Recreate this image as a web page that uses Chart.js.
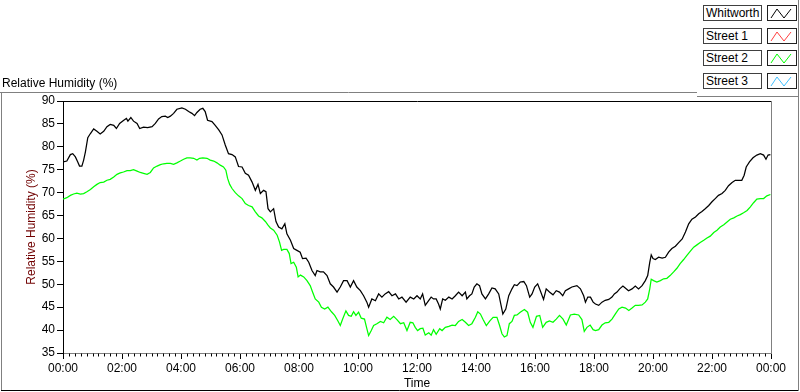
<!DOCTYPE html>
<html>
<head>
<meta charset="utf-8">
<script src="https://cdn.jsdelivr.net/npm/chart.js@4/dist/chart.umd.min.js"></script>
<style>
html,body{margin:0;padding:0;background:#fff;}
#wrap{position:relative;width:800px;height:392px;overflow:hidden;font-family:"Liberation Sans",Arial,sans-serif;}
#c{position:absolute;left:0;top:0;}
#title{position:absolute;left:2px;top:76px;font-size:12px;line-height:14px;color:#000;white-space:nowrap;}
.lgText{position:absolute;left:703px;width:59px;height:16px;border:1px solid #404040;box-sizing:border-box;font-size:12px;line-height:14px;padding-left:2px;color:#000;background:#fff;white-space:nowrap;}
.lgIcon{position:absolute;left:767px;width:30px;height:16px;border:1px solid #202020;box-sizing:border-box;background:#fff;}
.lgIcon svg{position:absolute;left:0;top:0;}
</style>
</head>
<body>
<div id="wrap">
<canvas id="c" width="800" height="392"></canvas>
<div id="title">Relative Humidity (%)</div>
</div>
<script>
// ---------- data ----------
const seriesNames = ["Whitworth", "Street 1", "Street 2", "Street 3"];
const seriesColors = ["#000000", "#ff4040", "#00ff00", "#40c0ff"];
const yTickValues = [35, 40, 45, 50, 55, 60, 65, 70, 75, 80, 85, 90];
const xTickHours = [0, 2, 4, 6, 8, 10, 12, 14, 16, 18, 20, 22, 24];

const whitworthHours = [0,0.13,0.25,0.33,0.42,0.50,0.56,0.64,0.70,0.76,0.84,0.93,1.04,1.15,1.26,1.38,1.49,1.60,1.72,1.81,1.92,2.06,2.15,2.20,2.30,2.39,2.51,2.60,2.73,2.87,3.02,3.13,3.24,3.35,3.47,3.55,3.64,3.75,3.86,4.03,4.15,4.26,4.37,4.46,4.54,4.65,4.74,4.82,4.90,5.05,5.16,5.28,5.39,5.50,5.61,5.73,5.84,5.95,
6.07,6.18,6.29,6.41,6.52,6.61,6.69,6.80,6.88,6.95,7.03,7.14,7.22,7.31,7.42,7.52,7.59,7.71,7.82,7.93,8.04,8.12,8.24,8.33,8.44,8.55,8.61,8.72,8.83,8.95,9.06,9.17,9.29,9.40,9.51,9.63,9.74,9.85,9.96,10.08,10.19,10.30,10.36,10.47,10.59,10.70,10.81,10.92,11.04,11.15,11.27,11.38,11.49,11.63,11.77,11.89,
12.0,12.11,12.19,12.28,12.40,12.48,12.56,12.65,12.73,12.79,12.87,12.96,13.08,13.19,13.30,13.41,13.53,13.64,13.69,13.78,13.86,13.94,14.03,14.12,14.20,14.32,14.43,14.54,14.65,14.77,14.85,14.91,15.01,15.11,15.22,15.30,15.39,15.50,15.62,15.71,15.82,15.90,15.99,16.09,16.18,16.29,16.38,16.49,16.61,16.72,16.83,16.94,17.03,17.14,17.25,17.42,17.54,17.65,17.71,17.79,17.88,
17.97,18.05,18.16,18.27,18.38,18.50,18.61,18.69,18.78,18.87,18.98,19.06,19.17,19.29,19.40,19.51,19.63,19.74,19.82,19.89,19.94,20.00,20.08,20.19,20.31,20.42,20.53,20.64,20.76,20.87,20.99,21.10,21.21,21.32,21.44,21.55,21.66,21.77,21.89,22.00,22.11,22.22,22.34,22.45,22.56,22.68,22.79,22.90,23.01,23.09,23.16,23.27,23.39,23.52,23.64,23.75,23.83,23.90,23.98];
const whitworthValues = [76.7,76.9,78.3,78.5,77.8,76.7,75.8,75.8,77.1,78.9,82.0,82.9,83.9,83.4,82.8,83.4,84.4,84.9,84.7,84.0,85.1,85.8,86.2,85.6,86.4,85.6,85.1,84.0,84.3,84.2,84.4,85.1,86.1,86.6,86.7,86.4,86.7,87.3,88.2,88.5,88.2,87.7,87.3,86.8,87.5,88.2,88.4,87.7,85.8,85.5,84.7,83.7,82.6,80.4,78.5,78.3,77.8,75.7,
75.6,74.2,73.8,72.3,70.5,71.8,69.8,70.5,70.2,66.5,65.8,66.5,63.7,62.5,62.1,63.2,61.0,59.6,57.8,57.4,57.0,55.6,55.7,54.8,53.0,51.9,53.0,52.7,52.7,51.9,50.1,49.4,48.3,49.4,50.8,50.8,49.4,50.8,49.4,48.6,47.5,46.1,45.0,46.8,46.4,47.9,47.2,47.9,48.4,47.5,47.9,46.8,47.2,46.1,47.2,46.8,
47.5,46.8,47.9,45.4,46.5,47.2,46.8,46.8,45.7,44.6,46.8,46.5,47.2,46.8,47.5,48.3,47.5,48.3,46.8,47.5,47.9,49.4,50.1,49.7,47.9,46.8,47.9,49.2,49.0,47.9,45.4,43.5,44.6,47.5,49.0,49.9,49.7,50.5,50.6,49.7,47.2,47.9,49.4,50.1,48.6,46.7,49.0,48.3,47.7,48.6,48.3,47.5,48.6,49.0,49.4,49.7,49.0,47.5,46.1,47.2,47.2,
46.1,45.7,45.4,46.1,46.5,46.7,47.2,47.9,48.3,49.0,49.6,49.2,48.6,49.0,49.6,49.0,49.7,50.8,51.9,54.8,56.4,55.6,55.4,55.9,55.7,55.9,57.0,57.8,58.3,59.1,59.9,61.4,63.2,64.2,64.7,65.4,65.9,66.5,67.2,68.0,68.7,69.4,69.8,70.5,71.5,72.2,72.7,72.7,72.7,73.8,75.6,76.7,77.6,78.2,78.5,78.2,77.3,78.2,78.3];

const street1Hours = [];
const street1Values = [];

const street2Hours = [0,0.13,0.25,0.36,0.47,0.59,0.70,0.81,0.93,1.04,1.15,1.26,1.38,1.49,1.60,1.72,1.83,1.94,2.05,2.17,2.28,2.39,2.51,2.62,2.73,2.85,2.96,3.07,3.19,3.30,3.41,3.52,3.64,3.75,3.86,3.98,4.09,4.20,4.31,4.43,4.54,4.63,4.74,4.88,4.99,5.11,5.22,5.33,5.44,5.52,5.58,5.65,5.73,5.84,5.95,
6.07,6.18,6.29,6.41,6.52,6.63,6.74,6.86,6.95,7.03,7.14,7.26,7.34,7.41,7.48,7.59,7.67,7.73,7.82,7.91,7.97,8.05,8.16,8.27,8.38,8.46,8.55,8.67,8.76,8.87,8.98,9.10,9.21,9.32,9.40,9.48,9.59,9.68,9.77,9.85,9.93,10.02,10.11,10.22,10.30,10.36,10.45,10.53,10.64,10.76,10.87,10.98,11.09,11.21,11.32,11.44,11.55,11.66,
11.77,11.86,11.94,12.02,12.11,12.20,12.28,12.40,12.48,12.56,12.65,12.77,12.85,12.96,13.08,13.19,13.30,13.41,13.53,13.64,13.75,13.86,13.98,14.06,14.15,14.24,14.35,14.47,14.58,14.71,14.80,14.88,14.96,15.05,15.13,15.22,15.30,15.39,15.50,15.64,15.75,15.84,15.93,16.05,16.16,16.26,16.38,16.49,16.61,16.72,16.83,16.95,17.06,17.20,17.33,17.48,17.59,17.67,17.76,
17.87,17.97,18.05,18.16,18.27,18.38,18.50,18.61,18.72,18.84,18.95,19.07,19.18,19.29,19.40,19.51,19.63,19.74,19.82,19.89,19.94,20.02,20.13,20.25,20.36,20.47,20.58,20.70,20.81,20.92,21.04,21.15,21.26,21.38,21.49,21.60,21.72,21.83,21.94,22.06,22.17,22.28,22.40,22.51,22.62,22.74,22.85,22.96,23.07,23.19,23.30,23.41,23.52,23.64,23.75,23.86,23.98];
const street2Values = [68.6,68.9,69.4,69.7,69.9,69.7,69.8,70.2,70.7,71.3,71.8,72.2,72.3,72.7,72.9,73.4,74.0,74.3,74.5,74.8,74.8,75.0,74.7,74.4,74.2,74.0,74.4,75.4,75.8,76.1,76.3,76.4,76.4,76.2,76.5,76.9,77.3,77.6,77.6,77.5,77.1,77.5,77.6,77.5,77.1,76.9,76.5,76.0,75.6,74.9,73.1,71.8,70.9,70.0,69.3,
68.7,67.6,67.2,66.9,65.8,64.9,64.5,63.7,62.9,62.3,61.8,60.7,59.2,57.4,57.6,57.6,56.7,54.5,54.8,53.7,51.6,52.0,51.6,50.8,49.7,48.3,46.8,46.1,45.0,44.6,45.0,44.0,43.2,42.0,41.0,42.4,44.2,43.2,43.0,44.0,43.2,43.9,42.6,42.4,40.3,38.8,39.9,41.0,41.4,41.9,41.6,42.8,42.3,43.0,42.3,41.4,41.6,39.9,
41.7,41.6,40.6,39.9,40.3,40.4,38.9,39.4,38.9,40.1,39.1,40.3,39.9,40.6,40.8,41.1,41.0,41.9,42.3,41.7,41.0,41.4,42.8,44.0,43.5,42.3,41.0,42.0,42.8,42.8,41.0,39.2,38.5,38.8,41.4,41.9,43.2,43.3,43.9,44.5,43.9,41.7,40.6,43.0,43.2,40.6,41.7,42.0,41.7,42.4,43.2,42.4,41.1,43.3,43.5,43.3,42.3,39.7,40.6,
41.1,40.1,39.9,40.1,41.1,41.6,41.7,42.4,43.5,44.6,45.0,44.8,44.3,44.8,45.4,45.4,45.5,46.1,46.8,49.0,51.1,50.8,50.5,50.8,51.2,51.3,51.9,52.7,53.5,54.5,55.4,56.3,57.2,58.1,58.6,59.1,59.6,60.1,60.5,61.3,61.8,62.5,63.0,63.6,64.2,64.5,64.9,65.2,65.6,66.1,66.9,67.8,68.6,68.7,68.7,69.3,69.6];

const street3Hours = [];
const street3Values = [];

// ---------- build ----------
function pts(hs, vs){ return hs.map((h,i)=>({x:h, y:vs[i]})); }
const allHours = [whitworthHours, street1Hours, street2Hours, street3Hours];
const allValues = [whitworthValues, street1Values, street2Values, street3Values];

// legend (HTML)
const wrap = document.getElementById('wrap');
seriesNames.forEach((name, i) => {
  const top = 5 + Math.round(i * 22.6);
  const t = document.createElement('div');
  t.className = 'lgText'; t.style.top = top + 'px'; t.textContent = name;
  wrap.appendChild(t);
  const ic = document.createElement('div');
  ic.className = 'lgIcon'; ic.style.top = top + 'px';
  ic.innerHTML = '<svg width="28" height="14"><polyline points="3,12 9,3 16,12 23,3" fill="none" stroke="' + seriesColors[i] + '" stroke-width="1"/></svg>';
  wrap.appendChild(ic);
});

const FONT = {family: '"Liberation Sans", Arial, sans-serif', size: 12};

const framePlugin = {
  id: 'frame',
  afterDraw(chart) {
    const {ctx, chartArea: a} = chart;
    const xs = chart.scales.x;
    ctx.save();
    ctx.lineWidth = 1;
    function line(x1, y1, x2, y2, c) {
      ctx.strokeStyle = c; ctx.beginPath(); ctx.moveTo(x1, y1); ctx.lineTo(x2, y2); ctx.stroke();
    }
    const L = Math.round(a.left) + 0.5, T = Math.round(a.top) + 0.5;
    const R = Math.round(a.right) + 0.5, B = Math.round(a.bottom) + 0.5;
    line(L, T, R, T, '#000000');
    line(R, T, R, B, '#808080');
    // minor ticks every 12 minutes
    for (let k = 0; k <= 120; k++) {
      if (k % 10 === 0) continue;
      const px = Math.round(xs.getPixelForValue(k * 0.2)) + 0.5;
      line(px, B, px, B + 3, '#000000');
    }
    // outer frame
    line(0, 92.5, 697, 92.5, '#808080');
    line(1.5, 92, 1.5, 391, '#808080');
    line(1, 390.5, 798, 390.5, '#000000');
    line(798.5, 0, 798.5, 391, '#808080');
    line(697, 96.5, 798, 96.5, '#808080');
    ctx.restore();
  }
};

new Chart(document.getElementById('c'), {
  type: 'line',
  data: {
    datasets: seriesNames.map((name, i) => ({
      label: name,
      data: pts(allHours[i], allValues[i]),
      borderColor: seriesColors[i],
      backgroundColor: seriesColors[i],
      borderWidth: 1.25,
      pointRadius: 0,
      tension: 0,
      fill: false
    }))
  },
  options: {
    responsive: false,
    animation: false,
    events: [],
    layout: {padding: {left: 0, top: 101, right: 29, bottom: 0}},
    plugins: {legend: {display: false}, tooltip: {enabled: false}, title: {display: false}},
    scales: {
      x: {
        type: 'linear', min: 0, max: 24,
        afterFit: s => { s.height = 39; },
        afterBuildTicks: s => { s.ticks = xTickHours.map(v => ({value: v})); },
        ticks: {
          font: FONT, color: '#000', padding: 2, maxRotation: 0, autoSkip: false,
          callback: v => String(v % 24).padStart(2, '0') + ':00'
        },
        grid: {display: true, drawOnChartArea: false, drawTicks: true, tickLength: 6, tickColor: '#000'},
        border: {display: true, color: '#808080'},
        title: {display: true, text: 'Time', font: FONT, color: '#000', padding: {top: 0, bottom: 1}}
      },
      y: {
        type: 'linear', min: 35, max: 90,
        afterFit: s => { s.width = 63; },
        afterBuildTicks: s => { s.ticks = yTickValues.map(v => ({value: v})); },
        ticks: {font: FONT, color: '#000', padding: 2, autoSkip: false},
        grid: {display: true, drawOnChartArea: false, drawTicks: true, tickLength: 6, tickColor: '#000'},
        border: {display: true, color: '#000'},
        title: {display: true, text: 'Relative Humidity (%)', font: FONT, color: '#700000', padding: {top: 24, bottom: 0}}
      }
    }
  },
  plugins: [framePlugin]
});
</script>
</body>
</html>
